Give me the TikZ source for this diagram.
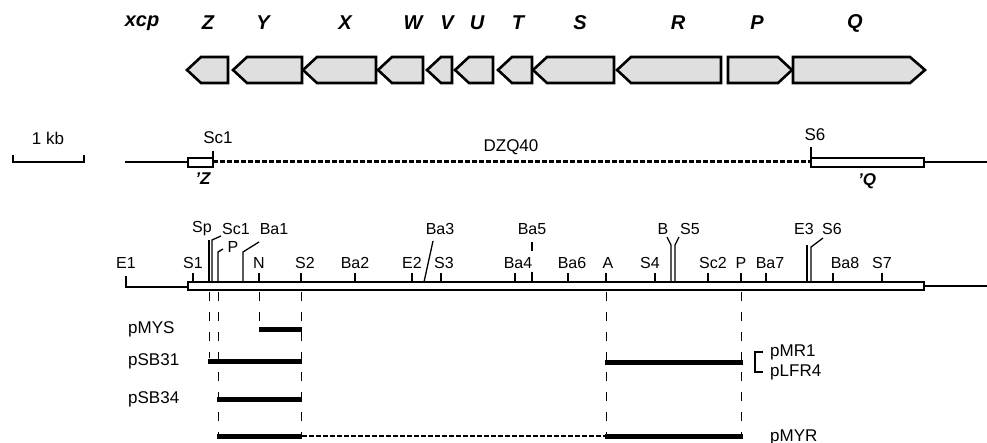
\documentclass[tikz,border=0pt]{standalone}
\usepackage{fontspec}
\setmainfont{Liberation Sans}
\usetikzlibrary{positioning}

\tikzset{
  gene/.style={draw, line width=2.6pt, fill=gray!25, line join=miter},
  genename/.style={font=\fontsize{20}{22}\selectfont\bfseries\itshape, inner sep=0pt},
  site/.style={font=\fontsize{16}{18}\selectfont, inner sep=0pt},
  rowname/.style={font=\fontsize{17}{19}\selectfont, inner sep=0pt},
  cut/.style={line width=1.3pt},
  clone/.style={line width=5pt},
  gap/.style={line width=3pt, dash pattern=on 4.5pt off 2.5pt},
  guide/.style={line width=1pt, dash pattern=on 9pt off 11pt},
}

\begin{document}
\begin{tikzpicture}[x=1pt, y=-1pt]
  \useasboundingbox (0,0) rectangle (987,443);

  % xcp genes, leftward ones
  \foreach \tip/\rgt in {187/228, 233/302, 303/376, 378/423, 427/452, 455/493, 498/532, 533/614, 617/721}
    \draw[gene] (\tip,70) -- (\tip+14,57) -- (\rgt,57) -- (\rgt,83) -- (\tip+14,83) -- cycle;
  % rightward ones
  \draw[gene] (728,57) -- (778,57) -- (792,70) -- (778,83) -- (728,83) -- cycle; % P
  \draw[gene] (793,57) -- (910,57) -- (925,70) -- (910,83) -- (793,83) -- cycle; % Q

  \node[genename] (xcp) at (142,23) {xcp};
  \node[genename] (gZ) at (208,23) {Z};
  \node[genename] (gY) at (263,23) {Y};
  \node[genename] (gX) at (345,23) {X};
  \node[genename] (gW) at (413,23) {W};
  \node[genename] (gV) at (447,23) {V};
  \node[genename] (gU) at (477,23) {U};
  \node[genename] (gT) at (518,23) {T};
  \node[genename] (gS) at (580,23) {S};
  \node[genename] (gR) at (678,23) {R};
  \node[genename] (gP) at (757,23) {P};
  \node[genename] (gQ) at (855,23) {Q};

  % scale bar
  \draw[cut] (13,155) -- (13,162) -- (84,162) -- (84,155);
  \node[rowname] (kb) at (48,138) {1 kb};

  % DZQ40 deletion
  \draw[cut] (125,162) -- (188,162);
  \draw[line width=1.6pt, fill=white] (188,158) rectangle (213,167);
  \draw[cut] (213,158) -- (213,151);
  \draw[gap] (213,162) -- (811,162);
  \draw[cut] (811,158) -- (811,147);
  \draw[line width=1.6pt, fill=white] (811,158) rectangle (924,167);
  \draw[cut] (924,162) -- (987,162);
  \node[rowname] (dSc1) at (218,138) {Sc1};
  \node[rowname] (dS6) at (815,135) {S6};
  \node[rowname] (dzq) at (511,147) {DZQ40};
  \node[genename, font=\fontsize{17}{19}\selectfont\bfseries\itshape] (zend) at (203,179) {'Z};
  \node[genename, font=\fontsize{17}{19}\selectfont\bfseries\itshape] (qend) at (867,181) {'Q};

  % restriction map
  \draw[cut] (126,276) -- (126,287) -- (188,287);
  \draw[line width=1.6pt, fill=white] (188,282) rectangle (924,290);
  \draw[cut] (924,286) -- (987,286);
  \foreach \x in {193, 259, 301, 355, 412, 441, 515, 568, 606, 655, 708, 741, 766, 833, 882}
    \draw[cut] (\x,282) -- (\x,273);
  \draw[cut] (209,282) -- (209,240); % Sp
  \draw[cut] (212,282) -- (212,240) -- (221,236); % Sc1
  \draw[cut] (218,282) -- (218,252) -- (223,249); % P
  \draw[cut] (243,282) -- (243,252) -- (259,242); % Ba1
  \draw[cut] (424,282) -- (433,241); % Ba3
  \draw[cut] (532,282) -- (532,272) (532,251) -- (532,242); % Ba5
  \draw[cut] (671,282) -- (671,245) -- (667,237); % B
  \draw[cut] (675,282) -- (675,245) -- (679,237); % S5
  \draw[cut] (807,282) -- (807,245); % E3
  \draw[cut] (811,282) -- (811,247) -- (823,238); % S6

  \node[site] (E1) at (126,263) {E1};
  \node[site] (S1) at (193,263) {S1};
  \node[site] (N) at (259,263) {N};
  \node[site] (S2) at (305,263) {S2};
  \node[site] (Ba2) at (355,263) {Ba2};
  \node[site] (E2) at (412,263) {E2};
  \node[site] (S3) at (444,263) {S3};
  \node[site] (Ba4) at (518,263) {Ba4};
  \node[site] (Ba6) at (572,263) {Ba6};
  \node[site] (A) at (608,263) {A};
  \node[site] (S4) at (650,263) {S4};
  \node[site] (Sc2) at (713,263) {Sc2};
  \node[site] (P2) at (741,263) {P};
  \node[site] (Ba7) at (770,263) {Ba7};
  \node[site] (Ba8) at (845,263) {Ba8};
  \node[site] (S7) at (882,263) {S7};
  \node[site] (Sp) at (202,229) {Sp};
  \node[site] (Sc1) at (236,229) {Sc1};
  \node[site] (P1) at (233,247) {P};
  \node[site] (Ba1) at (274,229) {Ba1};
  \node[site] (Ba3) at (440,229) {Ba3};
  \node[site] (Ba5) at (532,229) {Ba5};
  \node[site] (B) at (663,229) {B};
  \node[site] (S5) at (690,229) {S5};
  \node[site] (E3) at (804,229) {E3};
  \node[site] (S6) at (832,229) {S6};

  % guide lines down to the clones
  \draw[guide] (209,292) -- (209,358);
  \draw[guide] (218,292) -- (218,434);
  \draw[guide] (259,292) -- (259,327);
  \draw[guide] (301,292) -- (301,434);
  \draw[guide] (606,292) -- (606,434);
  \draw[guide] (741,292) -- (741,434);

  % subclones
  \draw[clone] (259,329) -- (302,329); % pMYS
  \draw[clone] (208,361) -- (302,361); % pSB31
  \draw[clone] (217,399) -- (302,399); % pSB34
  \draw[clone] (605,362) -- (743,362); % pMR1, pLFR4
  \draw[clone] (217,436) -- (302,436); % pMYR
  \draw[gap, line width=2.4pt] (302,436) -- (605,436);
  \draw[clone] (605,436) -- (743,436);
  \draw[cut] (763,352) -- (755,352) -- (755,372) -- (763,372);

  \node[rowname, anchor=west] (pMYS) at (128,329) {pMYS};
  \node[rowname, anchor=west] (pSB31) at (128,361) {pSB31};
  \node[rowname, anchor=west] (pSB34) at (128,399) {pSB34};
  \node[rowname, anchor=west] (pMR1) at (770,352) {pMR1};
  \node[rowname, anchor=west] (pLFR4) at (770,372) {pLFR4};
  \node[rowname, anchor=west] (pMYR) at (770,437) {pMYR};
\end{tikzpicture}
\end{document}
